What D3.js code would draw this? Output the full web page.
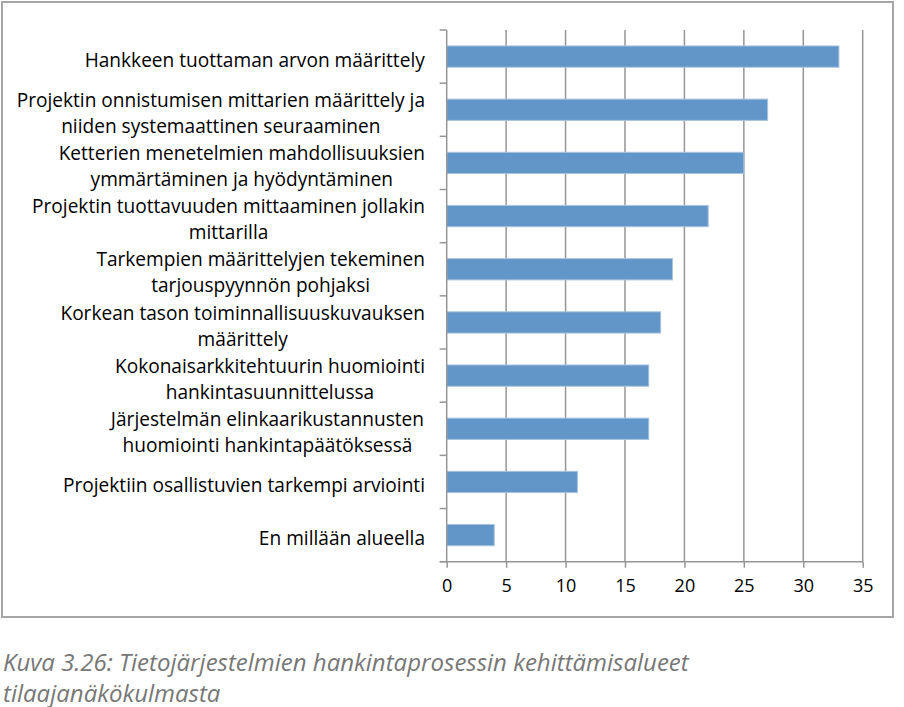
<!DOCTYPE html>
<html>
<head>
<meta charset="utf-8">
<script src="https://cdn.jsdelivr.net/npm/d3@7"></script>
<style>
  body { margin: 0; background: #fff; }
  #viz { position: relative; width: 904px; height: 707px; overflow: hidden; }
</style>
</head>
<body>
<div id="viz"></div>
<script>
// categories (top to bottom) and values
var categories = [
  ["Hankkeen tuottaman arvon määrittely"],
  ["Projektin onnistumisen mittarien määrittely ja", "niiden systemaattinen seuraaminen"],
  ["Ketterien menetelmien mahdollisuuksien", "ymmärtäminen ja hyödyntäminen"],
  ["Projektin tuottavuuden mittaaminen jollakin", "mittarilla"],
  ["Tarkempien määrittelyjen tekeminen", "tarjouspyynnön pohjaksi"],
  ["Korkean tason toiminnallisuuskuvauksen", "määrittely"],
  ["Kokonaisarkkitehtuurin huomiointi", "hankintasuunnittelussa"],
  ["Järjestelmän elinkaarikustannusten", "huomiointi hankintapäätöksessä"],
  ["Projektiin osallistuvien tarkempi arviointi"],
  ["En millään alueella"]
];
var values = [33, 27, 25, 22, 19, 18, 17, 17, 11, 4];
var xTicks = [0, 5, 10, 15, 20, 25, 30, 35];
var caption = ["Kuva 3.26: Tietojärjestelmien hankintaprosessin kehittämisalueet",
               "tilaajanäkökulmasta"];

var width = 904, height = 707;
var plot = {left: 446.7, right: 862.7, top: 30, bottom: 561.7};

var svg = d3.select("#viz")
  .append("svg")
  .attr("width", width)
  .attr("height", height);

// outer frame
svg.append("rect")
  .attr("x", 2).attr("y", 2)
  .attr("width", 891).attr("height", 615)
  .attr("fill", "none")
  .attr("stroke", "#a6a6a6")
  .attr("stroke-width", 2);

var xScale = d3.scaleLinear().domain([0, 35]).range([plot.left, plot.right]);
var yScale = d3.scaleBand()
  .domain(d3.range(categories.length))
  .range([plot.top, plot.bottom])
  .paddingInner(0.6).paddingOuter(0.3);

// gridlines
svg.append("g")
  .selectAll("line")
  .data(xTicks.slice(1))
  .enter().append("line")
  .attr("x1", d => xScale(d)).attr("x2", d => xScale(d))
  .attr("y1", plot.top).attr("y2", plot.bottom)
  .attr("stroke", "#969696")
  .attr("stroke-width", 1.5);

// bars
svg.append("g")
  .selectAll("rect")
  .data(values)
  .enter().append("rect")
  .attr("x", xScale(0))
  .attr("y", (d, i) => yScale(i))
  .attr("width", d => xScale(d) - xScale(0))
  .attr("height", yScale.bandwidth())
  .attr("fill", "#6296c9")
  .attr("stroke", "#a9c3e0")
  .attr("stroke-width", 1);

// x axis
var xAxis = d3.axisBottom(xScale).tickValues(xTicks).tickSize(6).tickPadding(12);
var gx = svg.append("g")
  .attr("transform", "translate(0," + plot.bottom + ")")
  .call(xAxis);
gx.select(".domain").attr("stroke", "#969696").attr("stroke-width", 1.5)
  .attr("d", "M" + (plot.left - 7) + ",0H" + plot.right);
gx.selectAll(".tick line").attr("stroke", "#969696").attr("stroke-width", 1.5);
gx.selectAll(".tick text")
  .attr("fill", "#000")
  .style("font-family", "'Open Sans', sans-serif")
  .style("font-size", "18px");

// y axis line and category ticks
var step = yScale.step();
var ySep = d3.range(categories.length + 1).map(i => plot.top + i * step);
svg.append("line")
  .attr("x1", plot.left).attr("x2", plot.left)
  .attr("y1", plot.top).attr("y2", plot.bottom)
  .attr("stroke", "#969696").attr("stroke-width", 1.5);
svg.append("g")
  .selectAll("line")
  .data(ySep)
  .enter().append("line")
  .attr("x1", plot.left - 7).attr("x2", plot.left)
  .attr("y1", d => d).attr("y2", d => d)
  .attr("stroke", "#969696").attr("stroke-width", 1.5);

// category labels
var labels = svg.append("g")
  .selectAll("text")
  .data(categories)
  .enter().append("text")
  .attr("text-anchor", "middle")
  .attr("fill", "#000")
  .style("font-family", "'Open Sans', sans-serif")
  .style("font-size", "19.1px");

labels.each(function(lines, i) {
  var t = d3.select(this);
  var cy = yScale(i) + yScale.bandwidth() / 2 + 3.5;
  var lh = 26;
  var y0 = cy - (lines.length - 1) * lh / 2;
  lines.forEach((ln, j) => {
    t.append("tspan").attr("x", 0).attr("y", y0 + j * lh).attr("dy", "0.35em").text(ln);
  });
});
// right-align the block, centre the lines inside it
labels.each(function() {
  var bb = this.getBBox();
  d3.select(this).attr("transform", "translate(" + (425 - bb.width / 2) + ",0)");
});

// caption
svg.append("g")
  .selectAll("text")
  .data(caption)
  .enter().append("text")
  .attr("x", 3)
  .attr("y", (d, i) => 671 + i * 31)
  .attr("fill", "#777")
  .style("font-family", "'Open Sans', sans-serif")
  .style("font-style", "italic")
  .style("font-size", "24px")
  .text(d => d);
</script>
</body>
</html>
